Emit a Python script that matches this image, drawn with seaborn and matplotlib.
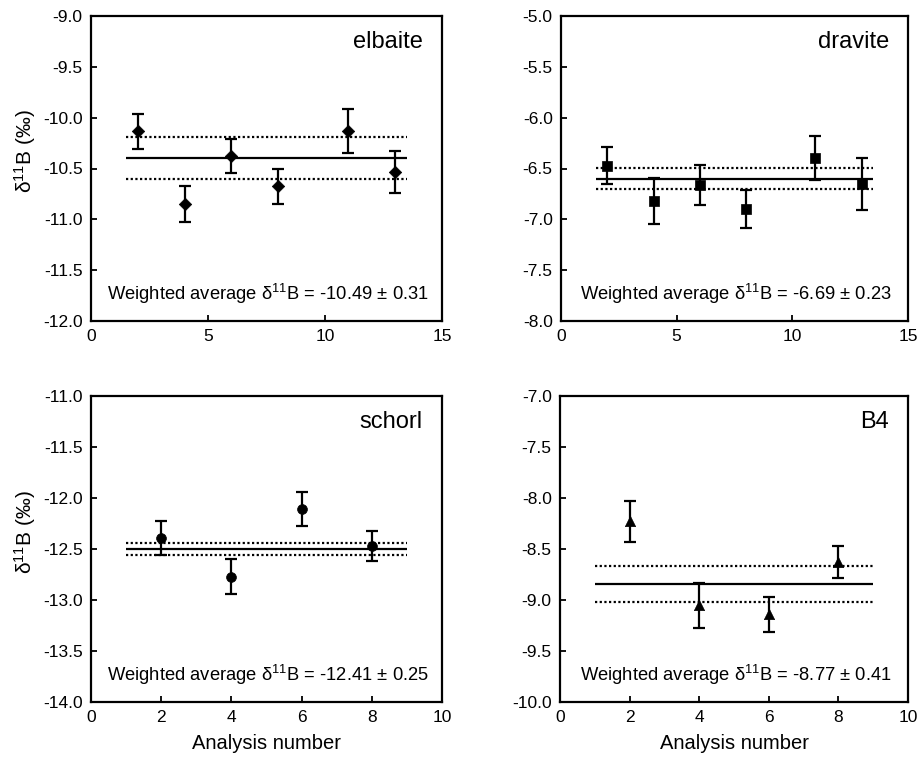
import numpy as np
import pandas as pd
import matplotlib
matplotlib.use("Agg")
import matplotlib.pyplot as plt
from matplotlib.ticker import FormatStrFormatter
import seaborn as sns

sns.set_theme(style="ticks")
plt.rcParams["font.family"] = ["Liberation Sans", "DejaVu Sans"]
plt.rcParams["axes.unicode_minus"] = False
plt.rcParams["mathtext.fontset"] = "custom"
plt.rcParams["mathtext.rm"] = "Liberation Sans"
plt.rcParams["mathtext.it"] = "Liberation Sans:italic"

# --- boron isotope analyses of tourmaline reference materials ---
sample_names = ["elbaite", "dravite", "schorl", "B4"]

elbaite_n = [2, 4, 6, 8, 11, 13]
elbaite_d11b = [-10.135, -10.85, -10.375, -10.675, -10.13, -10.535]
elbaite_err = [0.175, 0.18, 0.165, 0.175, 0.22, 0.205]

dravite_n = [2, 4, 6, 8, 11, 13]
dravite_d11b = [-6.472, -6.82, -6.665, -6.90, -6.40, -6.655]
dravite_err = [0.18, 0.23, 0.195, 0.19, 0.215, 0.255]

schorl_n = [2, 4, 6, 8]
schorl_d11b = [-12.39, -12.77, -12.105, -12.47]
schorl_err = [0.165, 0.175, 0.165, 0.15]

b4_n = [2, 4, 6, 8]
b4_d11b = [-8.23, -9.05, -9.14, -8.63]
b4_err = [0.205, 0.22, 0.17, 0.155]

# reference level (solid) and its bounds (dotted) for each sample
ref_level = [-10.40, -6.60, -12.50, -8.845]
ref_halfwidth = [0.205, 0.105, 0.06, 0.178]
ref_span = [(1.5, 13.5), (1.5, 13.5), (1.0, 9.0), (1.0, 9.0)]

# weighted averages quoted in each panel
wavg = [-10.49, -6.69, -12.41, -8.77]
wavg_err = [0.31, 0.23, 0.25, 0.41]

y_limits = [(-12.0, -9.0), (-8.0, -5.0), (-14.0, -11.0), (-10.0, -7.0)]
x_limits = [(0, 15), (0, 15), (0, 10), (0, 10)]
x_steps = [5, 5, 2, 2]
markers = ["D", "s", "o", "^"]
marker_sizes = [40, 45, 50, 55]

series = [
    (elbaite_n, elbaite_d11b, elbaite_err),
    (dravite_n, dravite_d11b, dravite_err),
    (schorl_n, schorl_d11b, schorl_err),
    (b4_n, b4_d11b, b4_err),
]

fig = plt.figure(figsize=(9.21, 7.57), dpi=100)
W, H = 921, 757
# panel boxes in pixels: (left, top, right, bottom)
boxes = [(91, 16, 442, 321), (561, 16, 908, 321),
         (91, 396, 442, 702), (560, 396, 908, 702)]

SUP = "$^{\\mathregular{11}}$"
ylabel = "δ" + SUP + "B (‰)"

for i, (name, (xs, ys, es)) in enumerate(zip(sample_names, series)):
    l, t, r, b = boxes[i]
    ax = fig.add_axes([l / W, 1 - b / H, (r - l) / W, (b - t) / H])
    df = pd.DataFrame({"n": xs, "d11B": ys, "err": es})

    # reference level with dotted bounds
    x0, x1 = ref_span[i]
    ax.hlines(ref_level[i], x0, x1, color="black", lw=1.6, zorder=2)
    ax.hlines([ref_level[i] + ref_halfwidth[i], ref_level[i] - ref_halfwidth[i]],
              x0, x1, color="black", lw=1.6, linestyles=(0, (1, 1.1)), zorder=2)

    ax.errorbar(df["n"], df["d11B"], yerr=df["err"], fmt="none",
                ecolor="black", elinewidth=1.6, capsize=4.5, capthick=1.6, zorder=3)
    sns.scatterplot(data=df, x="n", y="d11B", marker=markers[i],
                    s=marker_sizes[i], color="black", edgecolor="black",
                    linewidth=0.5, ax=ax, zorder=4, legend=False)

    ax.set_xlim(*x_limits[i])
    ax.set_ylim(*y_limits[i])
    ax.set_xticks(np.arange(x_limits[i][0], x_limits[i][1] + 0.01, x_steps[i]))
    ax.set_yticks(np.arange(y_limits[i][0], y_limits[i][1] + 0.01, 0.5))
    ax.yaxis.set_major_formatter(FormatStrFormatter("%.1f"))
    ax.xaxis.set_major_formatter(FormatStrFormatter("%d"))
    ax.tick_params(direction="in", length=4, width=1.3, labelsize=12.5,
                   pad=6, colors="black", top=False, right=False)
    for sp in ax.spines.values():
        sp.set_visible(True)
        sp.set_linewidth(1.6)
        sp.set_color("black")

    ax.text(0.945, 0.895, name, transform=ax.transAxes, ha="right",
            va="baseline", fontsize=17, color="black")
    ax.text(0.505, 0.07,
            f"Weighted average δ{SUP}B = {wavg[i]:.2f} ± {wavg_err[i]:.2f}",
            transform=ax.transAxes, ha="center", va="baseline",
            fontsize=13.2, color="black")

    if i % 2 == 0:
        ax.set_ylabel(ylabel, fontsize=15, color="black")
        ax.yaxis.set_label_coords(-0.15, 0.556)
    else:
        ax.set_ylabel("")
    if i >= 2:
        ax.set_xlabel("Analysis number", fontsize=14.5, color="black")
        ax.xaxis.set_label_coords(0.5, -0.105)
    else:
        ax.set_xlabel("")

fig.savefig("out.png", dpi=100, facecolor="white")
